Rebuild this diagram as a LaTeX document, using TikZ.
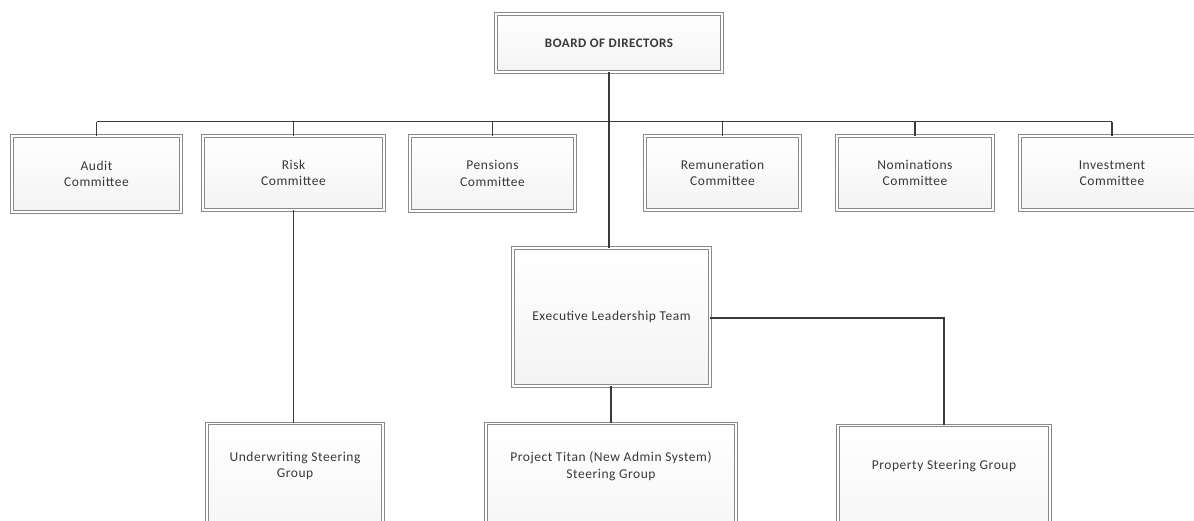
\documentclass[tikz,border=0pt]{standalone}
\usepackage{fontspec}
\setmainfont{Carlito}[LetterSpace=4]
\definecolor{boxline}{HTML}{8A8A8A}
\definecolor{conn}{HTML}{3A3A3A}
\definecolor{txt}{HTML}{383838}
\begin{document}
\begin{tikzpicture}[x=1pt,y=-1pt,
  box/.style={draw=boxline, line width=0.9pt, double=white, double distance=1.6pt,
    top color=white, bottom color=gray!9, inner sep=0pt, align=center,
    font=\fontsize{13.5}{16.5}\selectfont, text=txt},
  lbl/.style={align=center, font=\fontsize{13.5}{16.5}\selectfont, text=txt, inner sep=0pt},
  conn/.style={draw=conn, line width=1.2pt}]
\useasboundingbox (0,0) rectangle (1194,520);
\clip (0,0) rectangle (1194,520);
\fill[white] (0,0) rectangle (1194,520);
% top
\node[box, minimum width=226, minimum height=58, font=\fontsize{13}{16}\selectfont\bfseries] (board) at (609,43) {BOARD OF DIRECTORS};
% committees
\node[box, minimum width=169, minimum height=76] (audit) at (96.5,174) {Audit\\Committee};
\node[box, minimum width=181, minimum height=74] (risk) at (293.5,173) {Risk\\Committee};
\node[box, minimum width=165, minimum height=75] (pens) at (492.5,173.5) {Pensions\\Committee};
\node[box, minimum width=155, minimum height=74] (remu) at (722.5,173) {Remuneration\\Committee};
\node[box, minimum width=156, minimum height=74] (nomi) at (915,173) {Nominations\\Committee};
\node[box, minimum width=184, minimum height=74] (inve) at (1112,173) {Investment\\Committee};
% executive
\node[box, minimum width=197, minimum height=138] (elt) at (611.5,317) {Executive Leadership Team};
% bottom groups
\node[box, anchor=north, minimum width=176, minimum height=140] (uw) at (295,423) {};
\node[lbl] (uwt) at (295,466) {Underwriting Steering\\Group};
\node[box, anchor=north, minimum width=250, minimum height=140] (titan) at (611,423) {};
\node[lbl] (titant) at (611,466) {Project Titan (New Admin System)\\Steering Group};
\node[box, anchor=north, minimum width=212, minimum height=140] (prop) at (944,425) {};
\node[lbl] (propt) at (944,466) {Property Steering Group};
% connectors
\coordinate (bus) at (609,122);
\draw[conn] (board.south) -- (bus);
\draw[conn] (audit.north) ++(0,-14) coordinate (busL) -- (audit.north);
\draw[conn] (busL) -- (inve.north |- busL);
\draw[conn] (risk.north |- busL) -- (risk.north);
\draw[conn] (pens.north |- busL) -- (pens.north);
\draw[conn] (remu.north |- busL) -- (remu.north);
\draw[conn] (nomi.north |- busL) -- (nomi.north);
\draw[conn] (inve.north |- busL) -- (inve.north);
\draw[conn] (bus) -- (elt.north -| bus);
\draw[conn] (risk.south) -- (risk.south |- uw.north);
\draw[conn] (elt.south -| titan.north) -- (titan.north);
\draw[conn] (elt.east |- 0,318) -- (prop.north |- 0,318) -- (prop.north);
\end{tikzpicture}
\end{document}
